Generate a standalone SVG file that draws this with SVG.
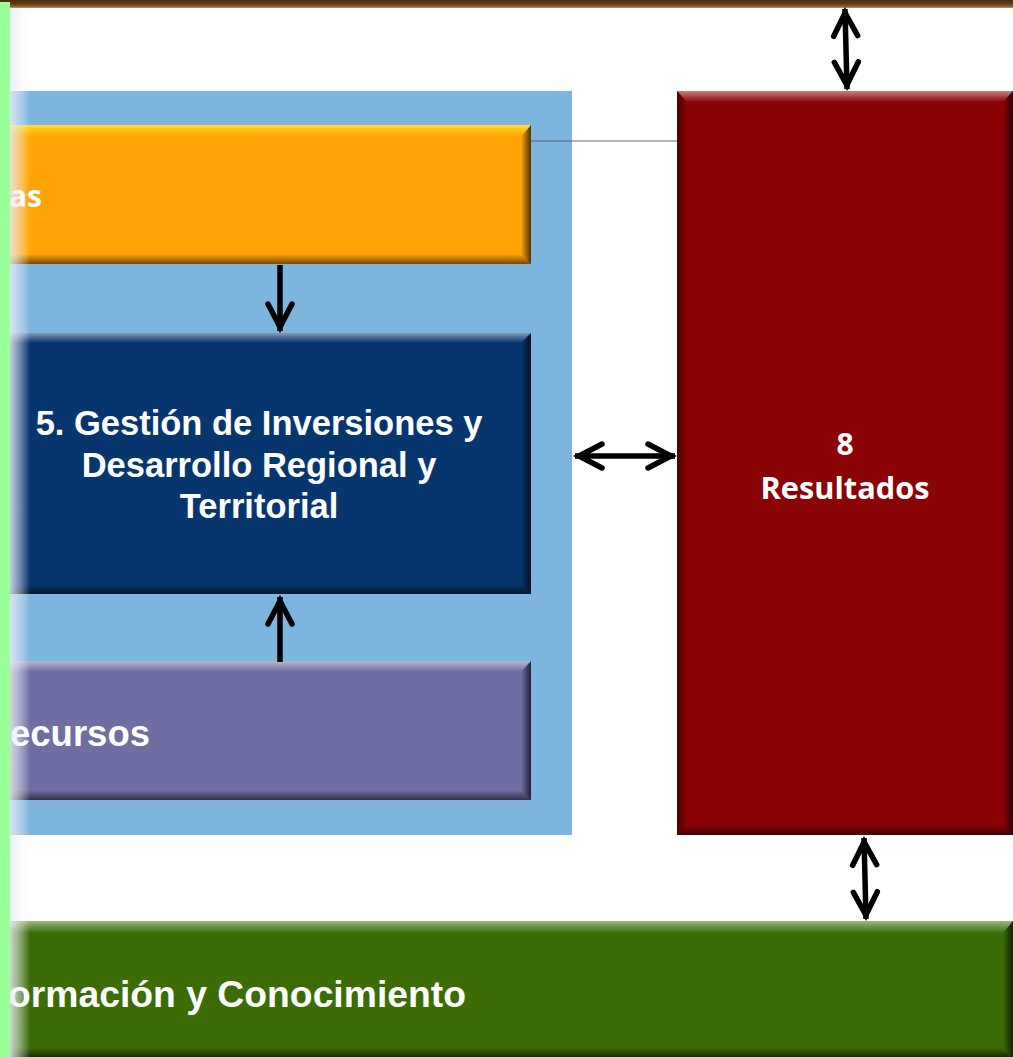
<svg xmlns="http://www.w3.org/2000/svg" width="1013" height="1057" viewBox="0 0 1013 1057">
<style>
.lbl{font-family:"Liberation Sans",Arial,sans-serif;font-weight:bold;fill:#fff;font-size:34.5px}
.big{font-size:36.5px}
.cal{font-family:"Open Sans","Liberation Sans",sans-serif;font-weight:bold;fill:#fff;font-size:30px}
.bt{fill:url(#gTop)}
.bty{fill:url(#gTopY)}
.bb{fill:url(#gBot)}
.br{fill:url(#gRight)}
.bl{fill:url(#gLeft)}
.conn{stroke:#000;stroke-width:5.5;fill:none}
</style>
<defs>
<linearGradient id="gTop" x1="0" y1="0" x2="0" y2="1">
<stop offset="0" stop-color="#fff" stop-opacity="0.5"/>
<stop offset="1" stop-color="#fff" stop-opacity="0"/>
</linearGradient>
<linearGradient id="gTopY" x1="0" y1="0" x2="0" y2="1">
<stop offset="0" stop-color="#ffe040" stop-opacity="0.95"/>
<stop offset="1" stop-color="#ffd000" stop-opacity="0"/>
</linearGradient>
<linearGradient id="gBot" x1="0" y1="0" x2="0" y2="1">
<stop offset="0" stop-color="#000" stop-opacity="0"/>
<stop offset="1" stop-color="#000" stop-opacity="0.55"/>
</linearGradient>
<linearGradient id="gRight" x1="0" y1="0" x2="1" y2="0">
<stop offset="0" stop-color="#000" stop-opacity="0"/>
<stop offset="1" stop-color="#000" stop-opacity="0.7"/>
</linearGradient>
<linearGradient id="gLeft" x1="0" y1="0" x2="1" y2="0">
<stop offset="0" stop-color="#000" stop-opacity="0.5"/>
<stop offset="1" stop-color="#000" stop-opacity="0"/>
</linearGradient>
<linearGradient id="gBrown" x1="0" y1="0" x2="0" y2="1">
<stop offset="0" stop-color="#4a2e10"/>
<stop offset="0.5" stop-color="#5e3d18"/>
<stop offset="0.8" stop-color="#8a6030"/>
<stop offset="1" stop-color="#c8945e"/>
</linearGradient>
<linearGradient id="gFade" x1="0" y1="0" x2="1" y2="0">
<stop offset="0" stop-color="#e4ebf2" stop-opacity="0.85"/>
<stop offset="0.5" stop-color="#eef2f6" stop-opacity="0.45"/>
<stop offset="1" stop-color="#fff" stop-opacity="0"/>
</linearGradient>
<marker id="ah" viewBox="-34 -17 38 34" refX="0" refY="0" markerWidth="38" markerHeight="34" markerUnits="userSpaceOnUse" orient="auto-start-reverse">
<path d="M-27,-12 L-4,0 L-27,12" fill="none" stroke="#000" stroke-width="5.5" stroke-linecap="round" stroke-linejoin="miter"/>
</marker>
</defs>

<rect x="0" y="0" width="1013" height="1057" fill="#fff"/>

<g id="top-bar">
<rect x="0" y="0" width="1013" height="8" fill="url(#gBrown)"/>
</g>

<g id="panel">
<rect x="-50" y="91" width="622" height="744" fill="#7eb5de"/>
</g>

<g id="node-orange">
<rect x="-50" y="125" width="581" height="139" fill="#ffa405"/>
<polygon class="bty" points="-50,125 531,125 521,137 -40,137"/>
<polygon class="bb" points="-50,264 531,264 521,254 -40,254"/>
<polygon class="br" points="531,125 531,264 521,254 521,137"/>
<text class="cal" x="9" y="207">as</text>
</g>

<g id="node-gestion">
<rect x="-50" y="333" width="581" height="261" fill="#07366f"/>
<polygon class="bt" points="-50,333 531,333 521,343 -40,343"/>
<polygon class="bb" points="-50,594 531,594 521,584 -40,584"/>
<polygon class="br" points="531,333 531,594 521,584 521,343"/>
<text class="lbl" text-anchor="middle" x="259" y="435">5. Gestión de Inversiones y</text>
<text class="lbl" text-anchor="middle" x="259" y="477">Desarrollo Regional y</text>
<text class="lbl" text-anchor="middle" x="259" y="518">Territorial</text>
</g>

<g id="node-recursos">
<rect x="-50" y="661" width="581" height="139" fill="#6e6ea2"/>
<polygon class="bt" points="-50,661 531,661 521,672 -40,672"/>
<polygon class="bb" points="-50,800 531,800 521,790 -40,790"/>
<polygon class="br" points="531,661 531,800 521,790 521,672"/>
<text class="lbl big" x="10" y="746">ecursos</text>
</g>

<g id="node-resultados">
<rect x="677" y="91" width="336" height="744" fill="#8a0405"/>
<polygon class="bt" points="677,91 1013,91 1003,102 687,102"/>
<polygon class="bb" points="677,835 1013,835 1003,825 687,825"/>
<polygon class="bl" points="677,91 677,835 687,825 687,102"/>
<polygon class="br" points="1013,91 1013,835 1003,825 1003,102"/>
<text class="cal" text-anchor="middle" x="845" y="455">8</text>
<text class="cal" text-anchor="middle" x="845" y="499" textLength="169" lengthAdjust="spacingAndGlyphs">Resultados</text>
</g>

<g id="node-informacion">
<rect x="-50" y="921" width="1063" height="136" fill="#3b6c06"/>
<polygon class="bt" points="-50,921 1013,921 1003,933 -40,933"/>
<polygon class="bb" points="-50,1057 1013,1057 1003,1047 -40,1047"/>
<polygon class="br" points="1013,921 1013,1057 1003,1047 1003,933"/>
<text class="lbl big" x="8" y="1007" textLength="458" lengthAdjust="spacingAndGlyphs">ormación y Conocimiento</text>
</g>

<g id="connectors">
<line x1="531" y1="141" x2="677" y2="141" stroke="#555" stroke-opacity="0.6" stroke-width="1.5"/>
<line class="conn" x1="845" y1="9" x2="847" y2="89" marker-start="url(#ah)" marker-end="url(#ah)"/>
<line class="conn" x1="575" y1="456" x2="675" y2="456" marker-start="url(#ah)" marker-end="url(#ah)"/>
<line class="conn" x1="864" y1="838" x2="866" y2="919" marker-start="url(#ah)" marker-end="url(#ah)"/>
<line class="conn" x1="280" y1="265" x2="280" y2="331" marker-end="url(#ah)"/>
<line class="conn" x1="280" y1="662" x2="280" y2="597" marker-end="url(#ah)"/>
</g>

<g id="left-edge">
<rect x="10" y="8" width="20" height="1049" fill="url(#gFade)"/>
<rect x="0" y="2" width="10" height="1055" fill="#99ff99"/>
</g>
</svg>
